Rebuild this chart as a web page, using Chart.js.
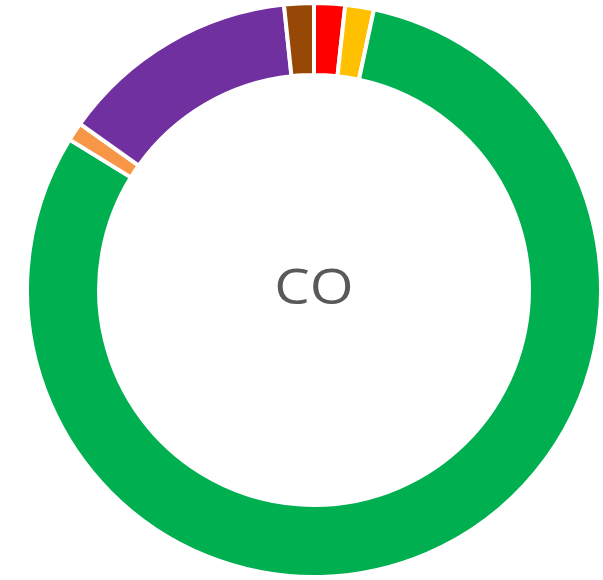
<!DOCTYPE html>
<html>
<head>
<meta charset="utf-8">
<script src="https://cdn.jsdelivr.net/npm/chart.js@4"></script>
<style>
  html, body { margin: 0; padding: 0; background: #ffffff; }
  body { width: 603px; height: 580px; position: relative; overflow: hidden; }
  #wrap { position: absolute; left: 25px; top: 1px; width: 578px; height: 578px; }
  #center {
    position: absolute; left: 314px; top: 285px;
    transform: translate(-50%, -50%) scaleX(1.15);
    font-family: "Open Sans", sans-serif; font-size: 49px; color: #595959;
    line-height: 1; white-space: nowrap;
  }
</style>
</head>
<body>
<div id="wrap"><canvas id="c"></canvas></div>
<div id="center">CO</div>
<script>
const categories = ["Segment 1", "Segment 2", "Segment 3", "Segment 4", "Segment 5", "Segment 6"];
const values = [1.74, 1.61, 80.43, 1.05, 13.5, 1.67];
const colors = ["#FF0000", "#FFC000", "#00B050", "#F79646", "#7030A0", "#974806"];
const centerLabel = "CO";

document.getElementById("center").textContent = centerLabel;

new Chart(document.getElementById("c"), {
  type: "doughnut",
  data: {
    labels: categories,
    datasets: [{
      data: values,
      backgroundColor: colors,
      borderColor: "#ffffff",
      borderWidth: 4
    }]
  },
  options: {
    responsive: true,
    maintainAspectRatio: false,
    animation: false,
    cutout: "74.9%",
    layout: { padding: 0 },
    plugins: { legend: { display: false }, tooltip: { enabled: false } }
  }
});
</script>
</body>
</html>
